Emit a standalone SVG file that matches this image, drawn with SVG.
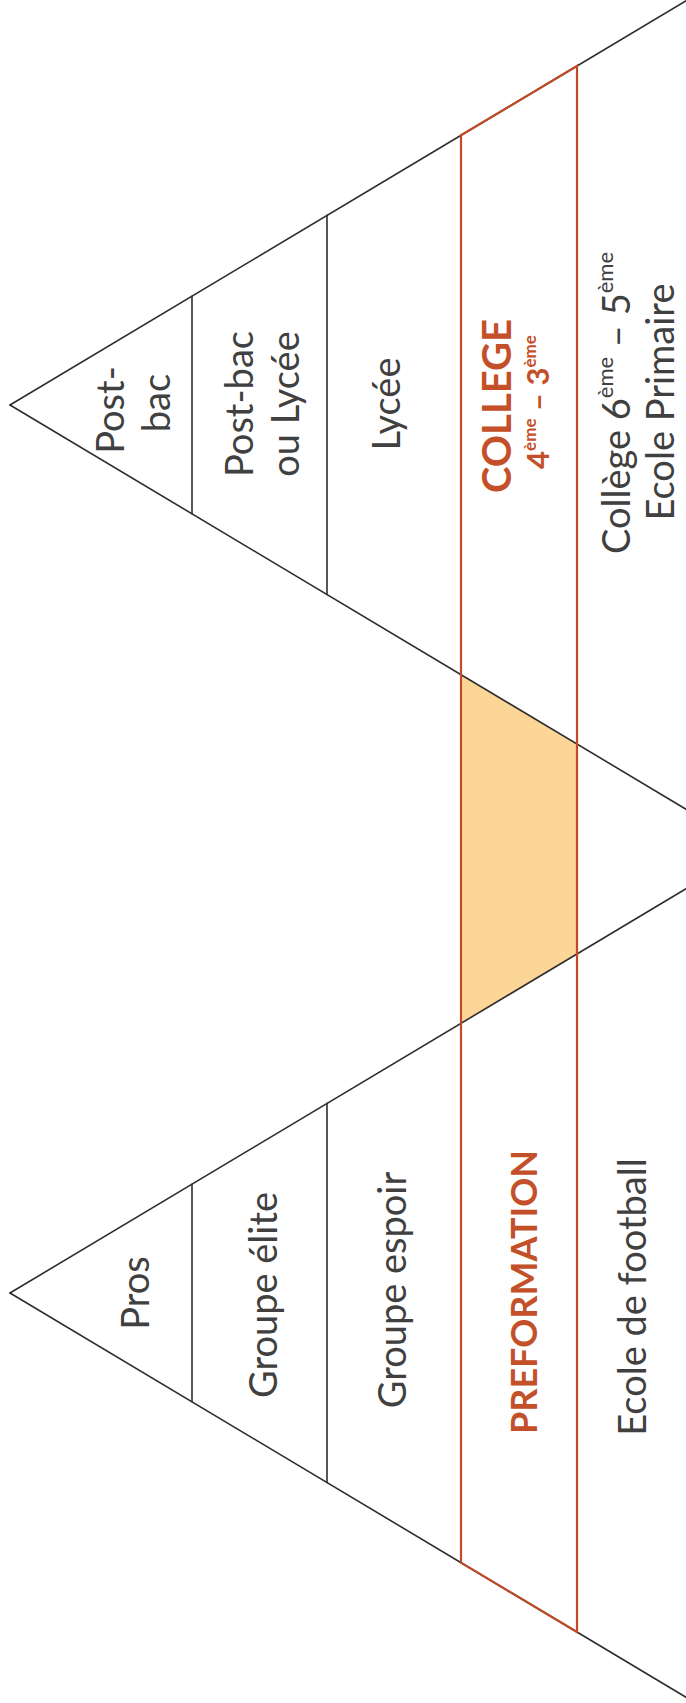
<svg xmlns="http://www.w3.org/2000/svg" width="686" height="1703" viewBox="0 0 686 1703">
<style>
.edge{stroke:#2e2e2e;stroke-width:1.6;fill:none;stroke-linecap:round}
.band{stroke:#bf4b28;stroke-width:2.2;fill:none;stroke-linejoin:miter}
.t{font-family:Lato,"Liberation Sans",sans-serif;font-size:38px;font-weight:400;fill:#404040;text-anchor:middle}
.o{font-family:Lato,"Liberation Sans",sans-serif;font-weight:bold;fill:#c4502a;text-anchor:middle}
</style>
<rect width="686" height="1703" fill="#ffffff"/>
<g id="overlap">
<polygon points="461,674.6 577,743.9 577,954.1 461,1023.4" fill="#fbd696"/>
</g>
<g id="connectors">
<line class="edge" x1="10" y1="405" x2="688" y2="-0.4"/>
<line class="edge" x1="10" y1="405" x2="686" y2="809.2"/>
<line class="edge" x1="10" y1="1293" x2="686" y2="888.8"/>
<line class="edge" x1="10" y1="1293" x2="686" y2="1697.2"/>
<line class="edge" x1="192" y1="296.2" x2="192" y2="513.8"/>
<line class="edge" x1="327" y1="215.4" x2="327" y2="594.6"/>
<line class="edge" x1="192" y1="1184.2" x2="192" y2="1401.8"/>
<line class="edge" x1="327" y1="1103.4" x2="327" y2="1482.6"/>
<polygon class="band" points="461,135.3 577,66 577,1632 461,1562.7"/>
</g>
<g id="node-postbac1">
<text class="t" transform="translate(124,410) rotate(-90)">Post-</text>
<text class="t" transform="translate(170,403) rotate(-90)">bac</text>
</g>
<g id="node-postbac2">
<text class="t" transform="translate(253,404) rotate(-90)">Post-bac</text>
<text class="t" transform="translate(299,404) rotate(-90)">ou Lycée</text>
</g>
<g id="node-lycee">
<text class="t" transform="translate(400,404) rotate(-90)">Lycée</text>
</g>
<g id="node-college">
<text class="o" font-size="40" transform="translate(511,406) rotate(-90)">COLLEGE</text>
<text class="o" font-size="31" transform="translate(549,402) rotate(-90)">4<tspan font-size="17" dy="-13">ème</tspan><tspan dy="13"> – 3</tspan><tspan font-size="17" dy="-13">ème</tspan></text>
</g>
<g id="node-college2">
<text class="t" transform="translate(630,403) rotate(-90)">Collège 6<tspan font-size="22" dy="-17">ème</tspan><tspan dy="17"> – 5</tspan><tspan font-size="22" dy="-17">ème</tspan></text>
<text class="t" transform="translate(674,402) rotate(-90)">Ecole Primaire</text>
</g>
<g id="node-pros">
<text class="t" transform="translate(149,1293) rotate(-90)">Pros</text>
</g>
<g id="node-elite">
<text class="t" transform="translate(277,1295) rotate(-90)">Groupe élite</text>
</g>
<g id="node-espoir">
<text class="t" transform="translate(406,1290) rotate(-90)">Groupe espoir</text>
</g>
<g id="node-preformation">
<text class="o" font-size="36" transform="translate(537,1292) rotate(-90)">PREFORMATION</text>
</g>
<g id="node-ecole">
<text class="t" transform="translate(646,1297) rotate(-90)">Ecole de football</text>
</g>
</svg>
